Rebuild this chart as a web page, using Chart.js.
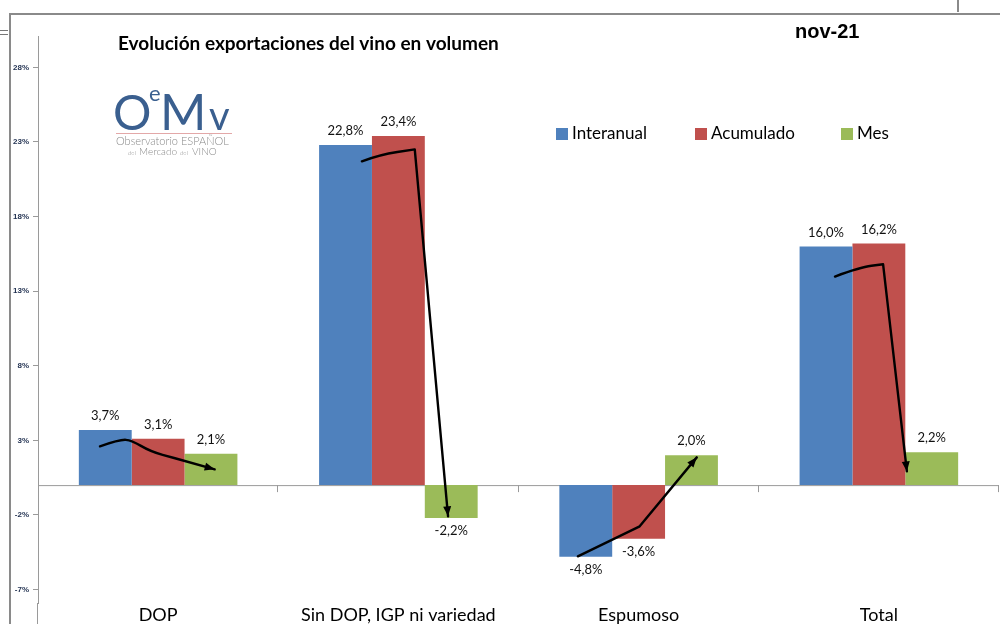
<!DOCTYPE html>
<html>
<head>
<meta charset="utf-8">
<script src="https://cdn.jsdelivr.net/npm/chart.js@4.4.1/dist/chart.umd.min.js"></script>
<style>
  html, body { margin: 0; padding: 0; background: #fff; }
  #wrap { position: relative; width: 1000px; height: 624px; overflow: hidden; }
  #frameTop { position: absolute; left: 10px; top: 13px; width: 990px; height: 0; border-top: 2px solid #8a8a8a; }
  #frameLeft { position: absolute; left: 9px; top: 13px; width: 0; height: 620px; border-left: 2px solid #8a8a8a; }
  #frameTick { position: absolute; left: 957px; top: 0; width: 0; height: 12px; border-left: 2px solid #8a8a8a; }
  #eq1, #eq2 { position: absolute; left: 0; width: 8px; height: 0; border-top: 1px solid #777; }
  #eq1 { top: 30px; } #eq2 { top: 34px; }
  #chartBox { position: absolute; left: 0; top: 0; width: 1000px; height: 624px; }
</style>
</head>
<body>
<div id="wrap">
  <div id="chartBox"><canvas id="wineChart"></canvas></div>
  <div id="frameTop"></div>
  <div id="frameLeft"></div>
  <div id="frameTick"></div>
  <div id="eq1"></div><div id="eq2"></div>
</div>
<script>
// categories and series (percent)
const categories = ['DOP', 'Sin DOP, IGP ni variedad', 'Espumoso', 'Total'];
const interanual = [3.7, 22.8, -4.8, 16.0];
const acumulado  = [3.1, 23.4, -3.6, 16.2];
const mes        = [2.1, -2.2, 2.0, 2.2];
const seriesNames = ['Interanual', 'Acumulado', 'Mes'];
const yTicks = [-7, -2, 3, 8, 13, 18, 23, 28];

// hand drawn arrows: [datasetIndex, offset inside bar (-0.5..0.5), value]
const arrows = [
  [[0, -0.1, 2.6], [0, 0.28, 3.07], [1, -0.5, 3.0], [1, -0.15, 2.26], [1, 0.32, 1.8], [2, 0.07, 1.06]],
  [[0, 0.31, 21.7], [1, -0.35, 22.15], [1, 0.31, 22.5], [2, -0.06, -2.09]],
  [[0, -0.15, -4.77], [1, 0.02, -2.76], [2, 0.1, 1.86]],
  [[0, 0.17, 13.98], [1, -0.36, 14.6], [1, 0.08, 14.8], [2, -0.47, 0.92]]
];

const colors = ['#4F81BD', '#C0504D', '#9BBB59'];
const fmt = v => v.toFixed(1).replace('.', ',') + '%';

const decorPlugin = {
  id: 'decor',
  beforeDatasetsDraw(chart) {
    const ctx = chart.ctx, x = chart.scales.x, y = chart.scales.y, a = chart.chartArea;
    const y0 = y.getPixelForValue(0);
    ctx.save();
    ctx.strokeStyle = '#9a9a9a';
    ctx.lineWidth = 1;
    ctx.beginPath();
    ctx.moveTo(a.left, y0 + 0.5);
    ctx.lineTo(a.right, y0 + 0.5);
    for (let i = 1; i <= categories.length; i++) {
      const bx = Math.round(x.getPixelForValue(i - 0.5)) - 0.5;
      ctx.moveTo(bx, y0);
      ctx.lineTo(bx, y0 + 7);
    }
    // y axis continues to the bottom edge
    ctx.moveTo(a.left - 0.5, a.bottom);
    ctx.lineTo(a.left - 0.5, chart.height);
    ctx.stroke();
    ctx.restore();
  },
  afterDatasetsDraw(chart) {
    const ctx = chart.ctx, y = chart.scales.y;
    ctx.save();
    // value labels
    ctx.fillStyle = '#111';
    ctx.font = '13px Lato, "Noto Sans", sans-serif';
    ctx.textAlign = 'center';
    ctx.textBaseline = 'middle';
    chart.data.datasets.forEach((ds, di) => {
      chart.getDatasetMeta(di).data.forEach((bar, i) => {
        const v = ds.data[i];
        const ty = v >= 0 ? bar.y - 14 : bar.y + 13;
        ctx.fillText(fmt(v), bar.x, ty);
      });
    });

    // arrows
    ctx.strokeStyle = '#000';
    ctx.fillStyle = '#000';
    ctx.lineWidth = 2.4;
    ctx.lineCap = 'round';
    ctx.lineJoin = 'round';
    arrows.forEach((path, ci) => {
      const pts = path.map(([di, off, v]) => {
        const bar = chart.getDatasetMeta(di).data[ci];
        return [bar.x + off * bar.width, y.getPixelForValue(v)];
      });
      ctx.beginPath();
      ctx.moveTo(pts[0][0], pts[0][1]);
      const n = pts.length - 1;
      for (let k = 1; k < n - 1; k++) {
        const mx = (pts[k][0] + pts[k + 1][0]) / 2, my = (pts[k][1] + pts[k + 1][1]) / 2;
        ctx.quadraticCurveTo(pts[k][0], pts[k][1], mx, my);
      }
      if (n > 1) ctx.lineTo(pts[n - 1][0], pts[n - 1][1]);
      ctx.lineTo(pts[n][0], pts[n][1]);
      ctx.stroke();
      // head
      const [ex, ey] = pts[n], [px, py] = pts[n - 1];
      const ang = Math.atan2(ey - py, ex - px);
      ctx.beginPath();
      ctx.moveTo(ex, ey);
      ctx.lineTo(ex - 10 * Math.cos(ang) + 4 * Math.sin(ang), ey - 10 * Math.sin(ang) - 4 * Math.cos(ang));
      ctx.lineTo(ex - 10 * Math.cos(ang) - 4 * Math.sin(ang), ey - 10 * Math.sin(ang) + 4 * Math.cos(ang));
      ctx.closePath();
      ctx.fill();
    });
    ctx.restore();
  },
  afterDraw(chart) {
    const ctx = chart.ctx;
    ctx.save();
    ctx.textBaseline = 'middle';
    ctx.textAlign = 'left';
    ctx.fillStyle = '#000';
    ctx.font = 'bold 19px Lato, "Noto Sans", sans-serif';
    ctx.fillText('Evolución exportaciones del vino en volumen', 118, 44);
    ctx.font = 'bold 20px "Liberation Sans", Arial, sans-serif';
    ctx.fillText('nov-21', 795, 32);

    // legend
    const legendX = [556, 695, 841];
    ctx.font = '17px Lato, "Noto Sans", sans-serif';
    seriesNames.forEach((name, i) => {
      ctx.fillStyle = colors[i];
      ctx.fillRect(legendX[i], 128, 12, 12);
      ctx.fillStyle = '#000';
      ctx.fillText(name, legendX[i] + 16, 134);
    });

    // OeMv logo
    ctx.fillStyle = '#3A5F8F';
    ctx.textBaseline = 'alphabetic';
    ctx.font = '48px Lato, "DejaVu Sans", sans-serif';
    ctx.fillText('O', 113, 130);
    ctx.font = '22px Lato, "DejaVu Sans", sans-serif';
    ctx.fillText('e', 149, 101);
    ctx.font = '50px Lato, "DejaVu Sans", sans-serif';
    ctx.fillText('M', 160, 130);
    ctx.font = '40px Lato, "DejaVu Sans", sans-serif';
    ctx.fillText('v', 209, 130);
    ctx.strokeStyle = '#E3A8A8';
    ctx.lineWidth = 1;
    ctx.beginPath();
    ctx.moveTo(116, 133.5);
    ctx.lineTo(232, 133.5);
    ctx.stroke();
    ctx.fillStyle = '#8a8a8a';
    ctx.font = '300 11px Lato, "DejaVu Sans", sans-serif';
    ctx.fillText('Observatorio ESPAÑOL', 116, 145);
    ctx.font = '300 6px Lato, sans-serif';
    ctx.fillText('del', 128, 155);
    ctx.font = '300 10px Lato, sans-serif';
    ctx.fillText('Mercado', 139, 155);
    ctx.font = '300 6px Lato, sans-serif';
    ctx.fillText('del', 180, 155);
    ctx.font = '300 10px Lato, sans-serif';
    ctx.fillText('VINO', 192, 155);
    ctx.restore();
  }
};

new Chart(document.getElementById('wineChart'), {
  type: 'bar',
  data: {
    labels: categories,
    datasets: [interanual, acumulado, mes].map((d, i) => ({
      label: seriesNames[i],
      data: d,
      backgroundColor: colors[i],
      borderWidth: 0,
      categoryPercentage: 0.66,
      barPercentage: 1
    }))
  },
  options: {
    responsive: true,
    maintainAspectRatio: false,
    animation: false,
    layout: { padding: { top: 36, right: 1, left: 0, bottom: 0 } },
    plugins: { legend: { display: false }, tooltip: { enabled: false } },
    scales: {
      x: {
        grid: { display: false, drawTicks: false },
        border: { display: false },
        ticks: { color: '#000', font: { family: 'Lato, "Noto Sans", sans-serif', size: 18 }, padding: 1, maxRotation: 0 },
        afterFit: s => { s.height = 21; }
      },
      y: {
        min: -7.9,
        max: 30.1,
        afterBuildTicks: s => { s.ticks = yTicks.map(v => ({ value: v })); },
        grid: { drawOnChartArea: false, tickLength: 5, color: '#9a9a9a' },
        border: { display: true, color: '#9a9a9a' },
        ticks: {
          color: '#1F2F4F',
          padding: 4,
          font: { family: '"Liberation Sans", Arial, sans-serif', size: 8, weight: 'bold' },
          callback: v => v + '%'
        },
        afterFit: s => { s.width = 38; }
      }
    }
  },
  plugins: [decorPlugin]
});
</script>
</body>
</html>
